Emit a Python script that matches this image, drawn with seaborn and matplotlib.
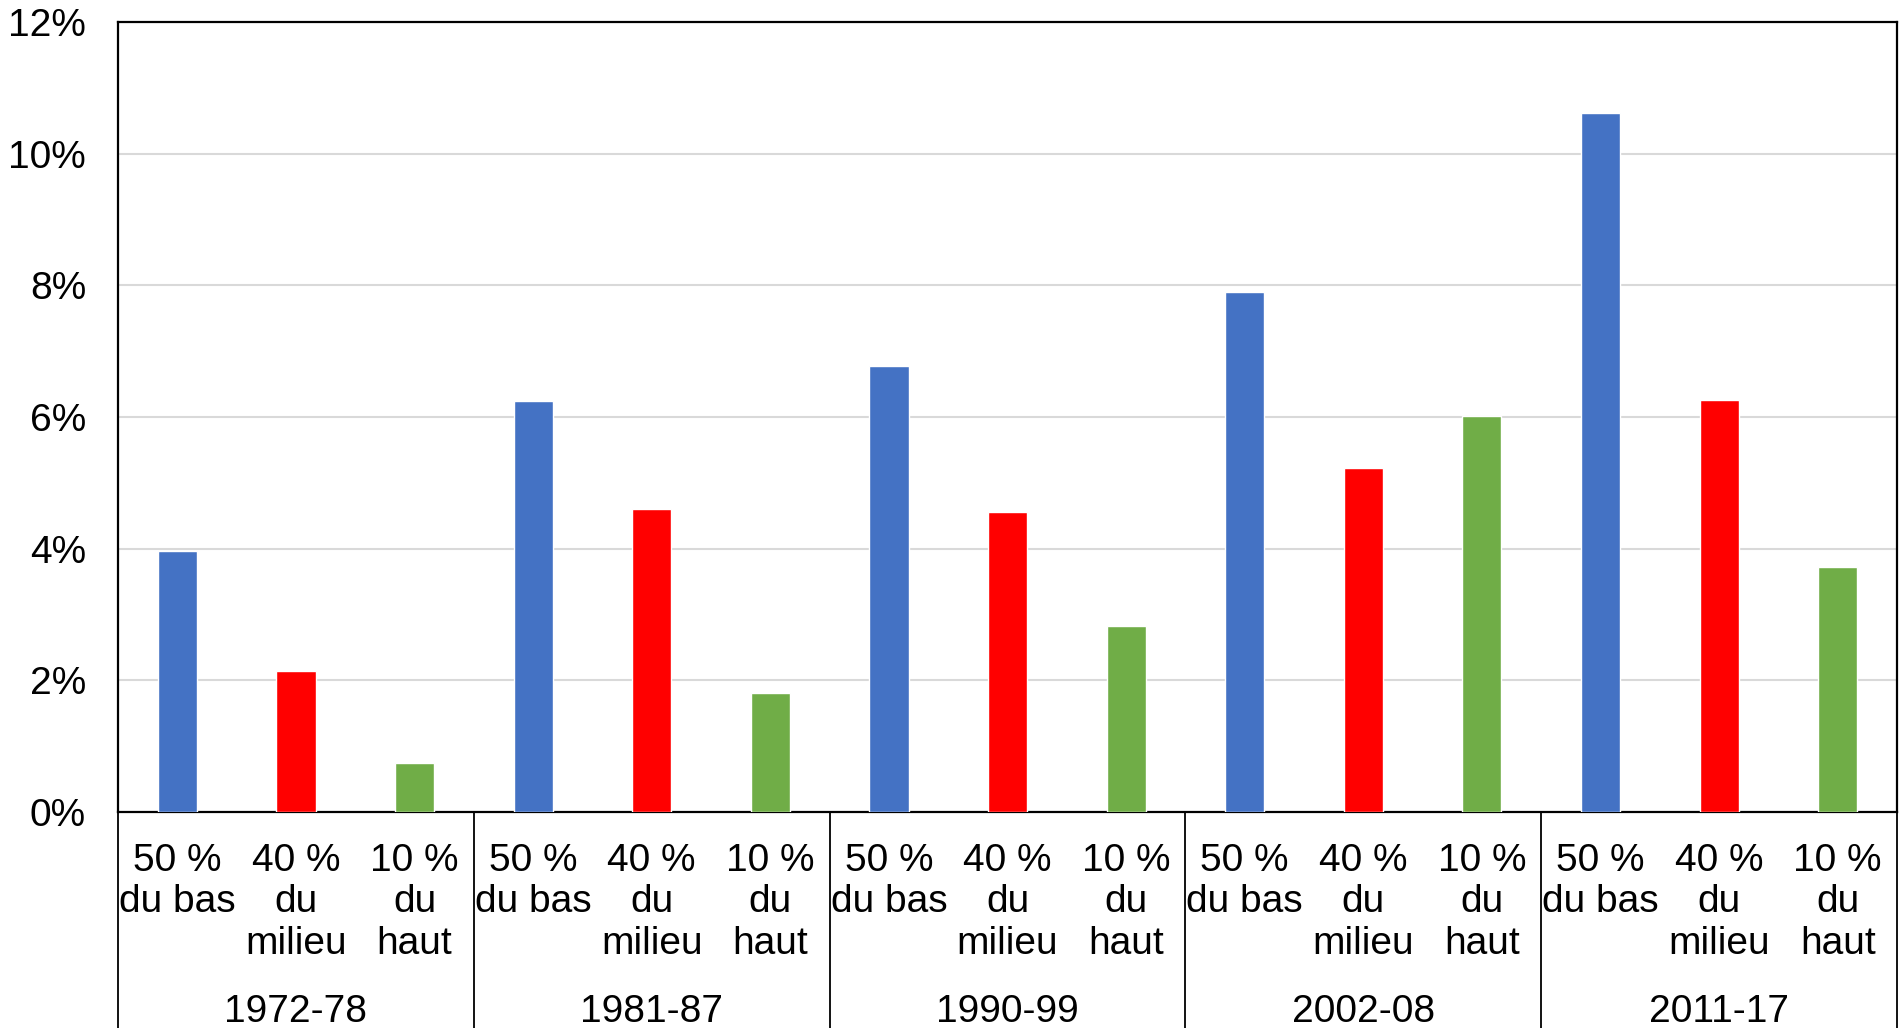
import pandas as pd
import seaborn as sns
import matplotlib.pyplot as plt
from matplotlib.ticker import FuncFormatter

periods = ['1972-78', '1981-87', '1990-99', '2002-08', '2011-17']
groups = ['50 %\ndu bas', '40 %\ndu\nmilieu', '10 %\ndu\nhaut']
bas = [3.96, 6.24, 6.77, 7.90, 10.62]
milieu = [2.14, 4.61, 4.55, 5.23, 6.26]
haut = [0.74, 1.81, 2.83, 6.01, 3.72]
colors = ['#4472C4', '#FF0000', '#70AD47']

rows = []
for i, p in enumerate(periods):
    for g, vals in zip(groups, [bas, milieu, haut]):
        rows.append({'slot': f'{p}|{g}', 'groupe': g, 'periode': p, 'valeur': vals[i]})
df = pd.DataFrame(rows)

sns.set_style('white')
plt.rcParams['font.family'] = ['Liberation Sans', 'DejaVu Sans']
plt.rcParams['text.color'] = 'black'
plt.rcParams['xtick.color'] = 'black'
plt.rcParams['ytick.color'] = 'black'

fig = plt.figure(figsize=(19.01, 10.28), dpi=100)
ax = fig.add_axes([0.0621, 0.2101, 0.9358, 0.7685])

sns.barplot(data=df, x='slot', y='valeur', hue='groupe', palette=colors,
            dodge=False, width=0.33, saturation=1, legend=False, ax=ax, zorder=3)

ax.set_ylim(0, 12)
ax.set_xlim(-0.5, len(df) - 0.5)
ax.set_yticks(range(0, 13, 2))
ax.yaxis.set_major_formatter(FuncFormatter(lambda v, _: f'{v:.0f}%'))
ax.grid(axis='y', color='#d9d9d9', linewidth=1.5, zorder=0)
ax.set_axisbelow(True)

ax.set_xticks(range(len(df)))
ax.set_xticklabels([g for _ in periods for g in groups], linespacing=1.2)
ax.tick_params(axis='x', length=0, pad=22, labelsize=28, labelcolor='black')
ax.tick_params(axis='y', length=0, pad=23, labelsize=28, labelcolor='black')
ax.set_xlabel('')
ax.set_ylabel('')

for s in ax.spines.values():
    s.set_color('black')
    s.set_linewidth(1.6)

trans = ax.get_xaxis_transform()
for b in range(len(periods) + 1):
    xb = b * 3 - 0.5
    ax.plot([xb, xb], [0, -0.3], color='black', linewidth=1.3,
            transform=trans, clip_on=False)
for i, p in enumerate(periods):
    ax.text(i * 3 + 1, -0.23, p, transform=trans, ha='center', va='top',
            fontsize=28, color='black')

fig.savefig('out.png', dpi=100)
